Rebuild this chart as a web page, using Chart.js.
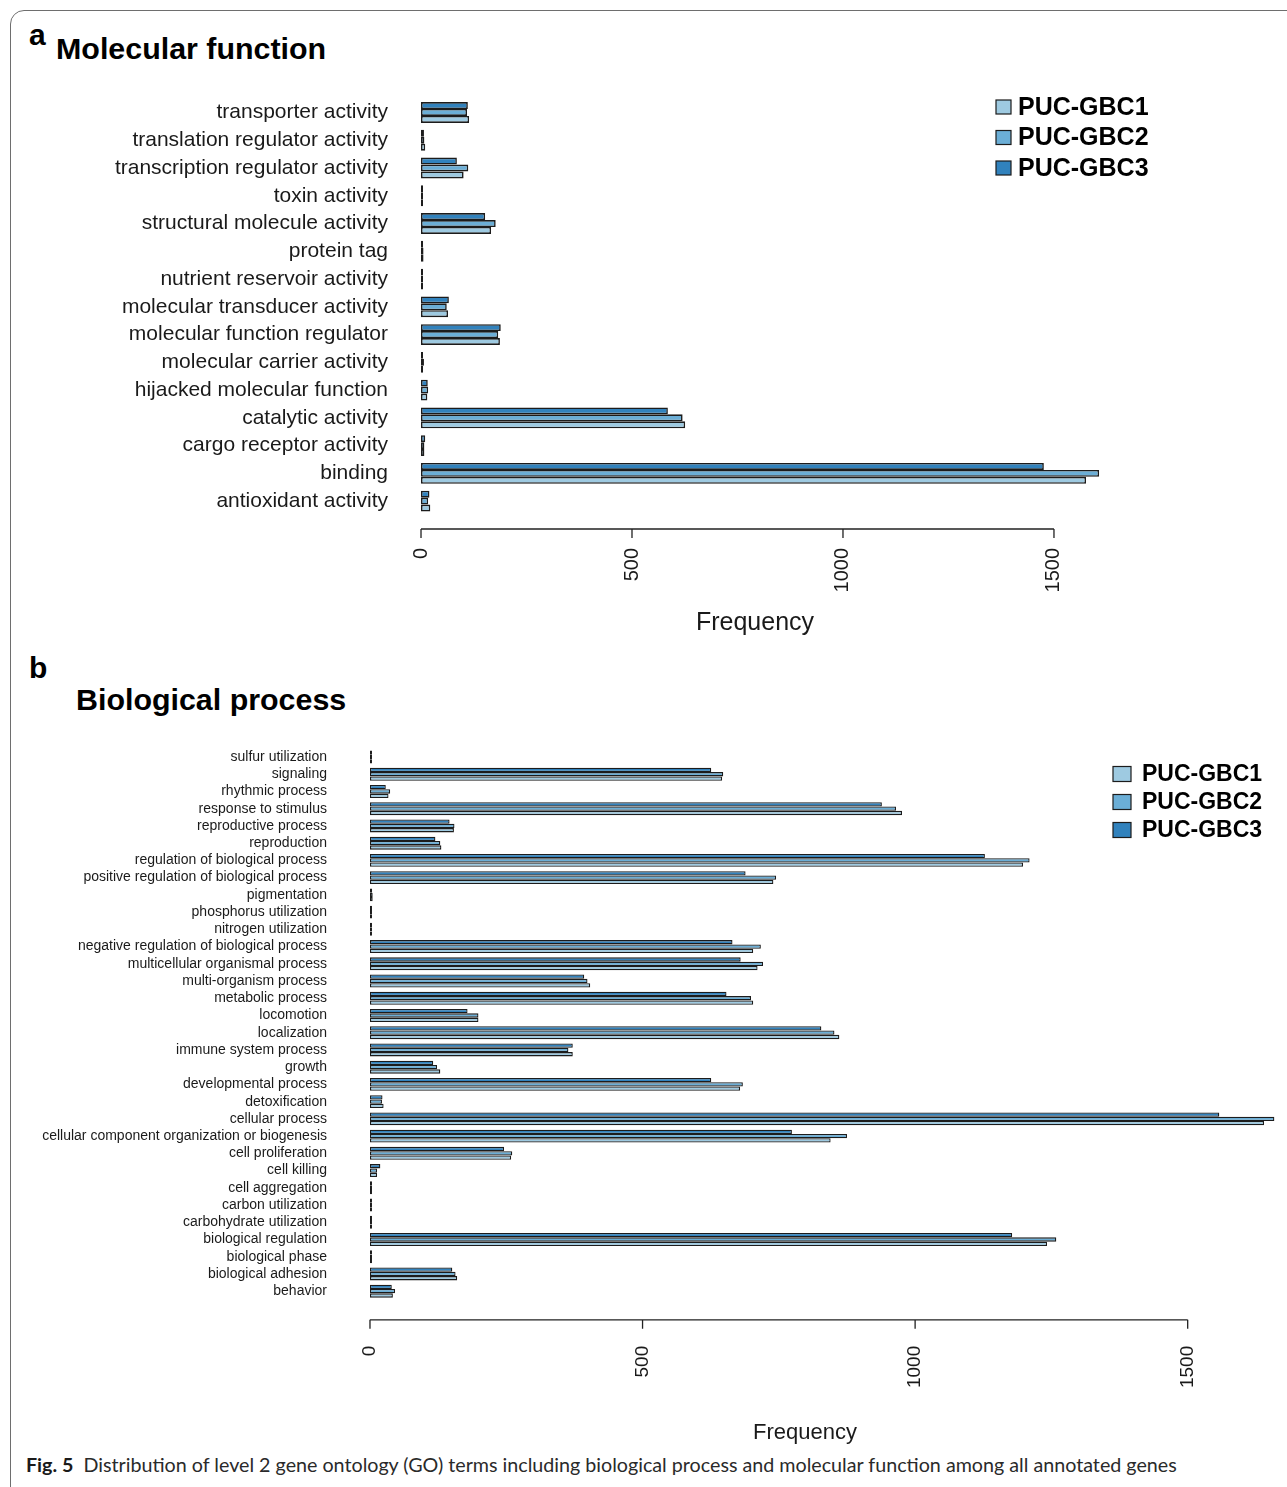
<!DOCTYPE html>
<html>
<head>
<meta charset="utf-8">
<script src="https://cdn.jsdelivr.net/npm/chart.js@4.4.1/dist/chart.umd.min.js"></script>
<style>
  html, body { margin: 0; padding: 0; background: #fff; }
  body { width: 1287px; height: 1487px; position: relative; overflow: hidden;
         font-family: "Liberation Sans", Arial, sans-serif; color: #000; }
  .frame { position: absolute; left: 10px; top: 10px; width: 1330px; height: 1530px;
           border: 1px solid #6e6e6e; border-radius: 14px; }
  .tag { position: absolute; font-weight: bold; font-size: 30px; line-height: 30px; }
  .chart-box { position: absolute; left: 0; }
  .caption { position: absolute; left: 26px; top: 1453px; white-space: nowrap;
             font-family: Lato, "Open Sans", sans-serif; font-size: 19.7px; color: #2a2a2a; }
  .caption b { color: #1a1a1a; }
</style>
</head>
<body>
<div class="frame"></div>
<div class="tag" style="left:29px; top:20px;">a</div>
<div class="tag" style="left:56px; top:33px; font-size:30.4px;">Molecular function</div>
<div class="tag" style="left:29px; top:653px;">b</div>
<div class="tag" style="left:76px; top:684px; font-size:30.4px;">Biological process</div>

<div class="chart-box" style="top:80px;"><canvas id="mf" width="1287" height="560"></canvas></div>
<div class="chart-box" style="top:720px;"><canvas id="bp" width="1287" height="730"></canvas></div>

<div class="caption"><b>Fig. 5</b>&nbsp; Distribution of level 2 gene ontology (GO) terms including biological process and molecular function among all annotated genes</div>

<script>
// ---- data ---------------------------------------------------------------
const seriesNames = ['PUC-GBC1', 'PUC-GBC2', 'PUC-GBC3'];
const freqTicks = [0, 500, 1000, 1500];

// Molecular function terms, listed top to bottom
const mfTerms = [
  'transporter activity', 'translation regulator activity', 'transcription regulator activity',
  'toxin activity', 'structural molecule activity', 'protein tag', 'nutrient reservoir activity',
  'molecular transducer activity', 'molecular function regulator', 'molecular carrier activity',
  'hijacked molecular function', 'catalytic activity', 'cargo receptor activity', 'binding',
  'antioxidant activity'
];
const mfGBC1 = [114, 10, 101, 1, 166, 6, 1, 64, 187, 5, 15, 626, 8, 1576, 22];
const mfGBC2 = [109, 8, 112, 1, 177, 6, 1, 61, 183, 7, 17, 620, 8, 1607, 17];
const mfGBC3 = [111, 7, 85, 1, 152, 5, 1, 66, 189, 4, 16, 585, 10, 1476, 20];

// Biological process terms, listed top to bottom
const bpTerms = [
  'sulfur utilization', 'signaling', 'rhythmic process', 'response to stimulus',
  'reproductive process', 'reproduction', 'regulation of biological process',
  'positive regulation of biological process', 'pigmentation', 'phosphorus utilization',
  'nitrogen utilization', 'negative regulation of biological process',
  'multicellular organismal process', 'multi-organism process', 'metabolic process',
  'locomotion', 'localization', 'immune system process', 'growth', 'developmental process',
  'detoxification', 'cellular process', 'cellular component organization or biogenesis',
  'cell proliferation', 'cell killing', 'cell aggregation', 'carbon utilization',
  'carbohydrate utilization', 'biological regulation', 'biological phase',
  'biological adhesion', 'behavior'
];
const bpGBC1 = [1, 646, 34, 976, 154, 131, 1198, 740, 5, 1, 2, 703, 711, 404, 703, 199, 861, 372,
                129, 679, 25, 1640, 845, 259, 13, 2, 1, 1, 1242, 3, 160, 42];
const bpGBC2 = [1, 648, 37, 965, 155, 129, 1210, 745, 5, 1, 2, 717, 721, 399, 699, 199, 852, 364,
                123, 684, 22, 1659, 875, 261, 13, 2, 1, 1, 1259, 3, 157, 46];
const bpGBC3 = [1, 626, 29, 939, 146, 120, 1128, 689, 4, 1, 2, 665, 680, 393, 654, 179, 828, 372,
                116, 626, 23, 1558, 774, 246, 19, 2, 1, 1, 1178, 3, 151, 40];

// ---- styling ------------------------------------------------------------
const fills = { 'PUC-GBC1': '#9ecae1', 'PUC-GBC2': '#6baed6', 'PUC-GBC3': '#3182bd' };
const edge = '#1c1c1c';
const inkColor = '#1a1a1a';
const fontFamily = '"Liberation Sans", Arial, sans-serif';

// R-style axis: a line spanning the first to last tick with short tick marks
const rAxisPlugin = {
  id: 'rAxis',
  afterDraw(chart, args, opts) {
    const x = chart.scales.x;
    const ctx = chart.ctx;
    const y = chart.chartArea.bottom + opts.gap;
    ctx.save();
    ctx.strokeStyle = '#222';
    ctx.lineWidth = 1.3;
    ctx.beginPath();
    ctx.moveTo(x.getPixelForValue(freqTicks[0]), y);
    ctx.lineTo(x.getPixelForValue(freqTicks[freqTicks.length - 1]), y);
    freqTicks.forEach(v => {
      const px = x.getPixelForValue(v);
      ctx.moveTo(px, y);
      ctx.lineTo(px, y + opts.tickLen);
    });
    ctx.stroke();
    ctx.restore();
  }
};

// Boxed legend in the upper right, listed GBC1 → GBC3
const boxLegendPlugin = {
  id: 'boxLegend',
  afterDraw(chart, args, opts) {
    const ctx = chart.ctx;
    const sets = chart.data.datasets.slice().reverse();
    ctx.save();
    ctx.font = 'bold ' + opts.fontSize + 'px ' + fontFamily;
    ctx.textBaseline = 'middle';
    ctx.textAlign = 'left';
    sets.forEach((ds, i) => {
      const cy = opts.y + i * opts.dy;
      ctx.fillStyle = ds.backgroundColor;
      ctx.fillRect(opts.x, cy - opts.boxH / 2 - 1, opts.boxW, opts.boxH);
      ctx.strokeStyle = edge;
      ctx.lineWidth = 1.2;
      ctx.strokeRect(opts.x, cy - opts.boxH / 2 - 1, opts.boxW, opts.boxH);
      ctx.fillStyle = '#000';
      ctx.fillText(ds.label, opts.textX, cy);
    });
    ctx.restore();
  }
};

function makeDatasets(g1, g2, g3, border) {
  // drawn top to bottom within each term: GBC3, GBC2, GBC1
  const rows = [['PUC-GBC3', g3], ['PUC-GBC2', g2], ['PUC-GBC1', g1]];
  return rows.map(([name, values]) => ({
    label: name,
    data: values,
    backgroundColor: fills[name],
    borderColor: edge,
    borderWidth: border,
    borderSkipped: false,
    minBarLength: 2,
    barPercentage: 1.0,
    categoryPercentage: 0.75
  }));
}

function buildChart(id, cfg) {
  return new Chart(document.getElementById(id), {
    type: 'bar',
    data: { labels: cfg.labels, datasets: makeDatasets(cfg.g1, cfg.g2, cfg.g3, cfg.border) },
    plugins: [rAxisPlugin, boxLegendPlugin],
    options: {
      indexAxis: 'y',
      responsive: false,
      animation: false,
      events: [],
      layout: { padding: cfg.padding },
      plugins: {
        legend: { display: false },
        tooltip: { enabled: false },
        rAxis: cfg.axis,
        boxLegend: cfg.legend
      },
      scales: {
        y: {
          type: 'category',
          grid: { display: false, drawTicks: false },
          border: { display: false },
          ticks: {
            autoSkip: false,
            padding: cfg.yPad,
            color: inkColor,
            font: { family: fontFamily, size: cfg.yFont }
          },
          afterFit(s) { s.width = cfg.yWidth; }
        },
        x: {
          type: 'linear',
          min: cfg.xMin,
          max: cfg.xMax,
          grid: { display: false, drawTicks: false },
          border: { display: false },
          afterBuildTicks(s) { s.ticks = freqTicks.map(v => ({ value: v })); },
          ticks: {
            autoSkip: false,
            minRotation: 90,
            maxRotation: 90,
            padding: cfg.xPad,
            color: inkColor,
            font: { family: fontFamily, size: cfg.xFont },
            callback: v => String(v)
          },
          title: {
            display: true,
            text: 'Frequency',
            color: inkColor,
            font: { family: fontFamily, size: cfg.titleFont, lineHeight: 1.2 },
            padding: { top: 0, bottom: cfg.titlePad }
          },
          afterFit(s) { s.height = cfg.xHeight; }
        }
      }
    }
  });
}

buildChart('mf', {
  labels: mfTerms, g1: mfGBC1, g2: mfGBC2, g3: mfGBC3, border: 1.6,
  padding: { top: 18, right: 171, bottom: 0, left: 0 },
  yWidth: 394, yPad: 6, yFont: 21,
  xMin: -64, xMax: 1647, xPad: 33, xFont: 20, titleFont: 25, titlePad: 2, xHeight: 125,
  axis: { gap: 14, tickLen: 9 },
  legend: { x: 996, y: 28, dy: 30.5, boxW: 15, boxH: 14, textX: 1018, fontSize: 25 }
});

buildChart('bp', {
  labels: bpTerms, g1: bpGBC1, g2: bpGBC2, g3: bpGBC3, border: 1.3,
  padding: { top: 28.4, right: 11, bottom: 0, left: 0 },
  yWidth: 334, yPad: 7, yFont: 14,
  xMin: -66, xMax: 1662, xPad: 46, xFont: 19, titleFont: 22, titlePad: 4, xHeight: 150.2,
  axis: { gap: 20, tickLen: 9 },
  legend: { x: 1113, y: 55, dy: 28, boxW: 18, boxH: 15, textX: 1142, fontSize: 23 }
});
</script>
</body>
</html>
